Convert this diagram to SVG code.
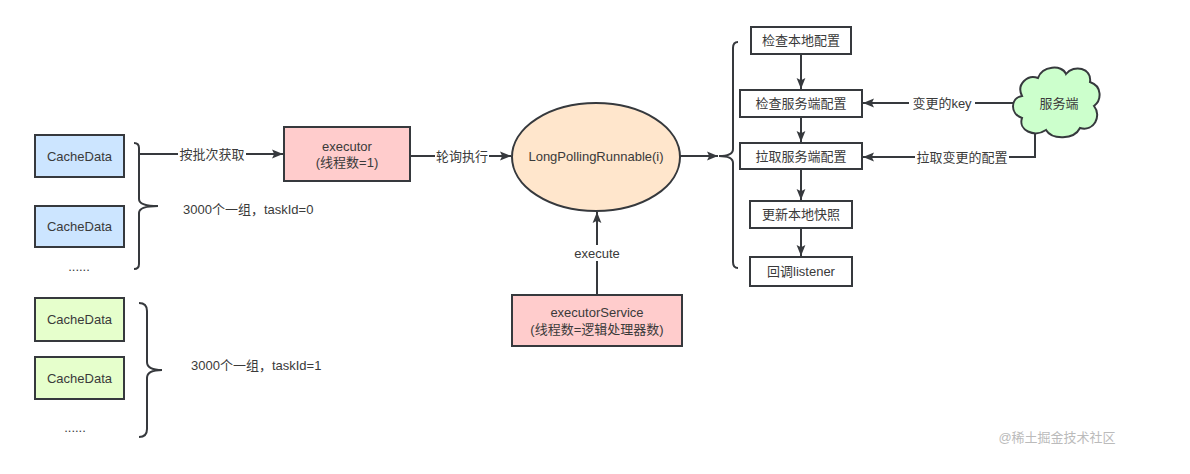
<svg xmlns="http://www.w3.org/2000/svg" width="1190" height="474" viewBox="0 0 1190 474">
<defs>
<style>
text{font-family:"Liberation Sans","Noto Sans CJK SC",sans-serif;font-size:13px;fill:#3a3a3a;text-anchor:middle;dominant-baseline:central}
.st{text-anchor:start}
.box{stroke:#36393d;stroke-width:2}
.ln{fill:none;stroke:#36393d;stroke-width:2}
.lbl{fill:#ffffff}
.blue{fill:#cce5ff}
.green{fill:#e6ffcc}
.pink{fill:#ffcccc}
.white{fill:#ffffff}
</style>
<marker id="a" viewBox="0 0 10 10" refX="10" refY="5" markerWidth="11" markerHeight="11" orient="auto" markerUnits="userSpaceOnUse">
<path d="M0,1 L10,5 L0,9 L2,5 z" fill="#36393d"/>
</marker>
</defs>
<rect width="1190" height="474" fill="#ffffff"/>

<g id="connectors">
<path class="ln" d="M139,154 L283,154" marker-end="url(#a)"/>
<rect class="lbl" x="178" y="146" width="68" height="16"/>
<text x="212" y="154">按批次获取</text>
<path class="ln" d="M410,156 L511,156" marker-end="url(#a)"/>
<rect class="lbl" x="435" y="148" width="54" height="16"/>
<text x="462" y="156">轮询执行</text>
<path class="ln" d="M680,156 L718,156" marker-end="url(#a)"/>
<path class="ln" d="M597,295 L597,212" marker-end="url(#a)"/>
<rect class="lbl" x="570" y="245" width="54" height="16"/>
<text x="597" y="253">execute</text>
<path class="ln" d="M801,54 L801,89" marker-end="url(#a)"/>
<path class="ln" d="M801,117 L801,142" marker-end="url(#a)"/>
<path class="ln" d="M801,169 L801,200" marker-end="url(#a)"/>
<path class="ln" d="M801,228 L801,256" marker-end="url(#a)"/>
<path class="ln" d="M1021,103 L863,103" marker-end="url(#a)"/>
<rect class="lbl" x="909" y="95" width="66" height="16"/>
<text x="942" y="103">变更的key</text>
<path class="ln" d="M1035,133 L1035,157 L863,157" marker-end="url(#a)"/>
<rect class="lbl" x="915" y="149" width="94" height="16"/>
<text x="962" y="157">拉取变更的配置</text>
<path class="ln" d="M134,143 Q139,143 139,148 L139,199 Q139,206 158,206 Q139,206 139,213 L139,264 Q139,269 134,269"/>
<path class="ln" d="M139,303 Q147,303 147,311 L147,362 Q147,370 162,370 Q147,370 147,378 L147,429 Q147,437 139,437"/>
<path class="ln" d="M738,42 Q733,42 733,48 L733,149 Q733,156 719,156 Q733,156 733,163 L733,262 Q733,268 738,268"/>
</g>

<g id="cache1"><rect class="box blue" x="35" y="135" width="89" height="42"/><text x="79.5" y="156">CacheData</text></g>
<g id="cache2"><rect class="box blue" x="35" y="206" width="89" height="41"/><text x="79.5" y="226.5">CacheData</text></g>
<g id="dots1"><text x="79" y="266">......</text></g>
<g id="group0"><text class="st" x="183" y="209">3000个一组，taskId=0</text></g>

<g id="cache3"><rect class="box green" x="35" y="298" width="89" height="43"/><text x="79.5" y="319.5">CacheData</text></g>
<g id="cache4"><rect class="box green" x="35" y="357" width="89" height="42"/><text x="79.5" y="378">CacheData</text></g>
<g id="dots2"><text x="75" y="427">......</text></g>
<g id="group1"><text class="st" x="191" y="365">3000个一组，taskId=1</text></g>

<g id="executor"><rect class="box pink" x="284" y="127" width="126" height="54"/><text x="347" y="146">executor</text><text x="347" y="162">(线程数=1)</text></g>
<g id="runnable"><ellipse class="box" fill="#ffe6cc" cx="596" cy="157" rx="84" ry="54"/><text x="596" y="156">LongPollingRunnable(i)</text></g>
<g id="executorService"><rect class="box pink" x="512" y="295" width="170" height="51"/><text x="597" y="312">executorService</text><text x="597" y="329">(线程数=逻辑处理器数)</text></g>

<g id="checkLocal"><rect class="box white" x="751" y="27" width="100" height="27"/><text x="801" y="40.5">检查本地配置</text></g>
<g id="checkServer"><rect class="box white" x="740" y="90" width="122" height="27"/><text x="801" y="103.5">检查服务端配置</text></g>
<g id="pullServer"><rect class="box white" x="740" y="143" width="122" height="26"/><text x="801" y="156">拉取服务端配置</text></g>
<g id="updateSnapshot"><rect class="box white" x="750" y="201" width="102" height="27"/><text x="801" y="214.5">更新本地快照</text></g>
<g id="callback"><rect class="box white" x="750" y="257" width="102" height="29"/><text x="801" y="271.5">回调listener</text></g>

<g id="server">
<path class="box" fill="#ccffcc" d="M1038,78 C1042,66 1062,64 1066,74 C1074,64 1092,68 1090,82 C1102,86 1102,100 1094,106 C1102,116 1094,132 1080,128 C1074,140 1052,140 1046,130 C1034,138 1018,130 1022,118 C1010,114 1010,98 1022,96 C1016,84 1028,74 1038,78 Z"/>
<text x="1059" y="103">服务端</text>
</g>

<text x="1057" y="437" style="fill:#bbbbbb;font-size:13px">@稀土掘金技术社区</text>
</svg>
